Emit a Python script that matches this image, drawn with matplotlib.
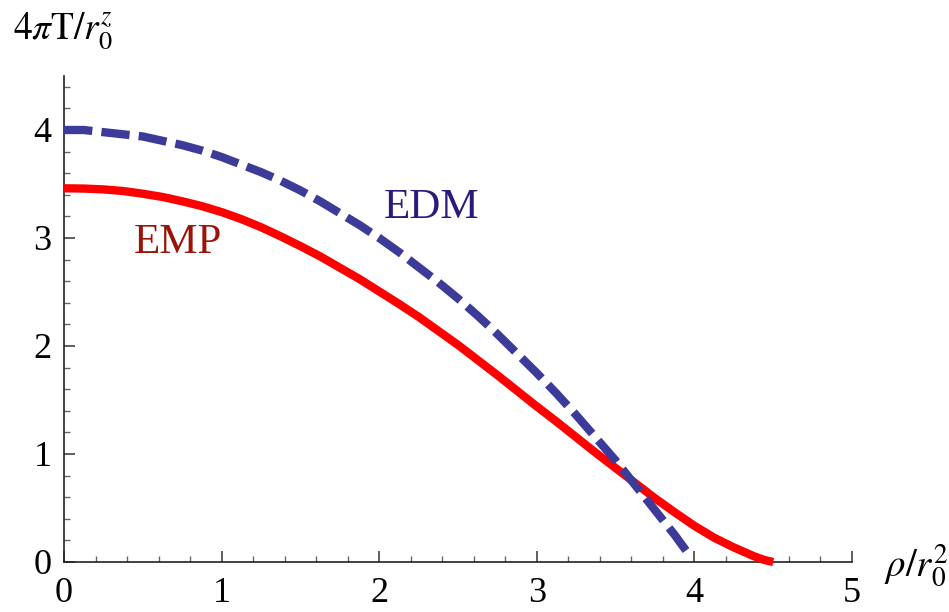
# Temperature profiles: EMP vs EDM

import numpy as np
import matplotlib
matplotlib.use("Agg")
import matplotlib.pyplot as plt
from matplotlib.ticker import MultipleLocator


# Values
emp_rho = [0.0, 0.125, 0.25, 0.375, 0.5, 0.625, 0.75, 0.875, 1.0, 1.125, 1.25,
           1.375, 1.5, 1.625, 1.75, 1.875, 2.0, 2.125, 2.25, 2.375, 2.5, 2.625,
           2.75, 2.875, 3.0, 3.125, 3.25, 3.375, 3.5, 3.625, 3.75, 3.875, 4.0,
           4.125, 4.25, 4.375, 4.44, 4.5]
emp_t = [3.46, 3.458, 3.45, 3.435, 3.41, 3.38, 3.34, 3.295, 3.24, 3.175, 3.10,
         3.015, 2.925, 2.83, 2.725, 2.62, 2.505, 2.39, 2.27, 2.14, 2.01, 1.87,
         1.73, 1.585, 1.44, 1.30, 1.155, 1.01, 0.87, 0.73, 0.59, 0.46, 0.335,
         0.225, 0.135, 0.055, 0.02, 0.0]

edm_rho = [0.0, 0.125, 0.25, 0.375, 0.5, 0.625, 0.75, 0.875, 1.0, 1.125, 1.25,
           1.375, 1.5, 1.625, 1.75, 1.875, 2.0, 2.125, 2.25, 2.375, 2.5, 2.625,
           2.75, 2.875, 3.0, 3.125, 3.25, 3.375, 3.5, 3.625, 3.75, 3.875, 3.97]
edm_t = [4.00, 4.00, 3.98, 3.96, 3.94, 3.90, 3.86, 3.81, 3.75, 3.68, 3.61,
         3.53, 3.44, 3.34, 3.23, 3.12, 3.00, 2.87, 2.73, 2.59, 2.44, 2.28,
         2.11, 1.93, 1.75, 1.56, 1.36, 1.15, 0.94, 0.71, 0.48, 0.25, 0.06]

x_ticks = [0, 1, 2, 3, 4, 5]
y_ticks = [0, 1, 2, 3, 4]

plt.rcParams['font.family'] = ['Liberation Serif', 'DejaVu Serif']
plt.rcParams['mathtext.fontset'] = 'stix'

fig = plt.figure(figsize=(9.49, 6.12), dpi=100)
ax = fig.add_axes([64 / 949, 50 / 612, 788 / 949, 486 / 612])

# Plot data
ax.plot(emp_rho, emp_t, color='#ff0000', lw=6, solid_capstyle='butt',
        solid_joinstyle='round', clip_on=False, zorder=3)
ax.plot(edm_rho, edm_t, color='#3d3b99', lw=6, dashes=(3.4, 1.1), dash_capstyle='butt',
        dash_joinstyle='round', clip_on=False, zorder=4)

ax.text(0.72, 2.96, 'EMP', color='#9a1408', fontsize=31, ha='center', va='center')
ax.text(2.33, 3.28, 'EDM', color='#2c1b7c', fontsize=31, ha='center', va='center')

# Axes through the origin, Mathematica style
ax.set_xlim(0, 5)
ax.set_ylim(0, 4.5)
for side in ['top', 'right']:
    ax.spines[side].set_visible(False)
for side in ['left', 'bottom']:
    ax.spines[side].set_color('#222222')
    ax.spines[side].set_linewidth(1.2)

ax.set_xticks(x_ticks)
ax.set_xticklabels([str(t) for t in x_ticks], fontfamily='Liberation Serif')
ax.set_yticks(y_ticks)
ax.set_yticklabels([str(t) for t in y_ticks], fontfamily='Liberation Serif')
ax.xaxis.set_minor_locator(MultipleLocator(0.2))
ax.yaxis.set_minor_locator(MultipleLocator(0.2))
ax.tick_params(which='major', direction='in', length=8, width=1.1, color='#333333',
               labelsize=26)
ax.tick_params(which='minor', direction='in', length=4.5, width=1.0, color='#666666')
ax.tick_params(axis='x', which='major', pad=11)
ax.tick_params(axis='y', which='major', pad=9)

# Axis labels at the ends
fig.text(13 / 949, 1 - 31 / 612, r'$4\pi\mathrm{T}/r_0^z$', fontsize=27, ha='left', va='center')
fig.text(884 / 949, 1 - 566 / 612, r'$\rho/r_0^2$', fontsize=28, ha='left', va='center')

fig.savefig('out.png', dpi=100)
